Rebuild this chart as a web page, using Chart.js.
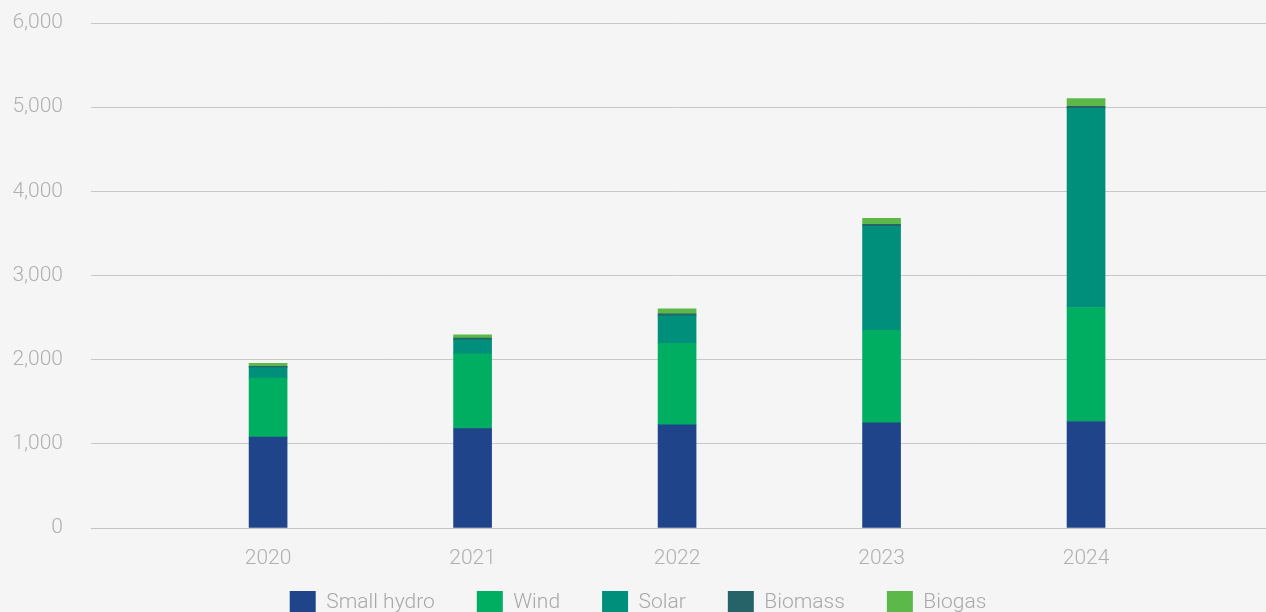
<!DOCTYPE html>
<html>
<head>
<meta charset="utf-8">
<title>Installed capacity by source</title>
<script src="https://cdn.jsdelivr.net/npm/chart.js@4/dist/chart.umd.min.js"></script>
<style>
    html, body { margin: 0; padding: 0; background: #f5f5f5; }
    #frame { width: 1266px; height: 612px; overflow: hidden; position: relative; }
    #holder { width: 1266px; height: 625px; position: relative; }
</style>
</head>
<body>
<div id="frame"><div id="holder"><canvas id="chart-capacity"></canvas></div></div>
<script>
'use strict';

// yearly capacity per source, stacked
var years = [2020, 2021, 2022, 2023, 2024];
var smallHydro = [1080, 1180, 1225, 1250, 1265];
var wind = [700, 890, 970, 1100, 1355];
var solar = [125, 165, 325, 1235, 2365];
var biomass = [15, 20, 24, 24, 24];
var biogas = [36, 39, 59, 71, 92];
var yTicks = [0, 1000, 2000, 3000, 4000, 5000, 6000];

var series = [
    { label: 'Small hydro', values: smallHydro, color: '#1f4489' },
    { label: 'Wind', values: wind, color: '#00ae62' },
    { label: 'Solar', values: solar, color: '#008f7b' },
    { label: 'Biomass', values: biomass, color: '#256369' },
    { label: 'Biogas', values: biogas, color: '#5cb848' }
];

var tickFont = { family: 'Roboto', weight: '300', size: 21 };
var legendFont = { family: 'Roboto', weight: '300', size: 21 };

function toPoints(values) {
    return values.map(function(v, i) { return { x: years[i], y: v }; });
}

var datasets = series.map(function(s) {
    return {
        label: s.label,
        data: toPoints(s.values),
        backgroundColor: s.color,
        borderWidth: 0,
        barThickness: 38
    };
});

new Chart(document.getElementById('chart-capacity'), {
    type: 'bar',
    data: { datasets: datasets },
    options: {
        responsive: true,
        maintainAspectRatio: false,
        animation: false,
        layout: { padding: { top: 23, left: 10, right: 0, bottom: 0 } },
        plugins: {
            tooltip: { enabled: false },
            legend: {
                position: 'bottom',
                labels: {
                    boxWidth: 26,
                    boxHeight: 24,
                    padding: 42,
                    color: '#a8a8a8',
                    font: legendFont
                }
            }
        },
        scales: {
            x: {
                type: 'linear',
                stacked: true,
                offset: false,
                min: 2019.134,
                max: 2024.88,
                grid: { display: false },
                border: { display: true, color: '#c4c4c4' },
                afterBuildTicks: function(scale) {
                    scale.ticks = years.map(function(y) { return { value: y }; });
                },
                // the axis box is kept short so the legend sits close under it;
                // mirrored labels are not clipped to that box, the negative padding
                // pushes them back below the baseline
                afterFit: function(scale) { scale.height = 21; },
                ticks: {
                    mirror: true,
                    padding: -43,
                    autoSkip: false,
                    maxRotation: 0,
                    color: '#b0b0b0',
                    font: tickFont,
                    callback: function(v) { return String(v); }
                }
            },
            y: {
                stacked: true,
                min: 0,
                max: 6000,
                afterBuildTicks: function(scale) {
                    scale.ticks = yTicks.map(function(v) { return { value: v }; });
                },
                afterFit: function(scale) { scale.width = 81; },
                // tick marks are invisible; their length keeps the labels clear of the grid
                grid: { color: '#c8c8c8', lineWidth: 1, drawTicks: true, tickLength: 28, tickColor: 'rgba(0,0,0,0)' },
                border: { display: false },
                ticks: {
                    padding: 0,
                    color: '#b0b0b0',
                    font: tickFont
                }
            }
        }
    }
});
</script>
</body>
</html>
